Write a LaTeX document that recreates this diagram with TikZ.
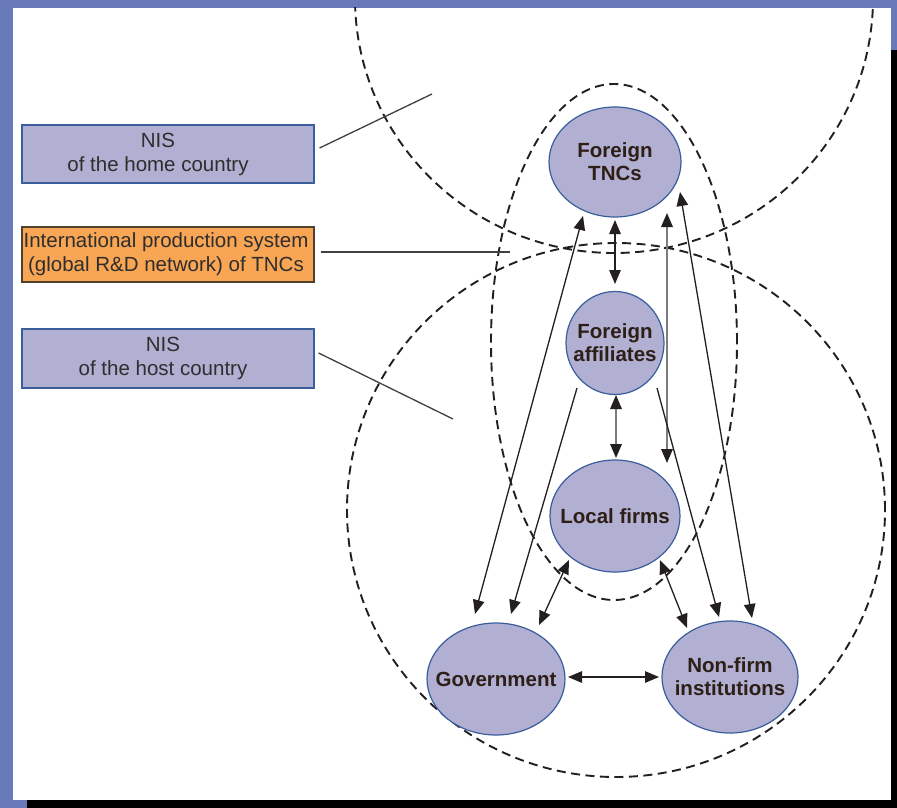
\documentclass[tikz,border=0pt]{standalone}
\usepackage{fontspec}
\setmainfont{Liberation Sans}
\usetikzlibrary{shapes.geometric,arrows.meta,calc}
\definecolor{bandblue}{RGB}{104,122,186}
\definecolor{nodefill}{RGB}{177,175,210}
\definecolor{nodeborder}{RGB}{58,94,156}
\definecolor{orangefill}{RGB}{248,165,84}
\definecolor{orangeborder}{RGB}{80,64,48}
\definecolor{inkc}{RGB}{35,31,32}
\definecolor{txtc}{RGB}{45,30,22}
\definecolor{grayline}{RGB}{125,125,125}
\begin{document}
\begin{tikzpicture}[x=1pt,y=-1pt,
  region/.style={draw=inkc, line width=1.9pt, dash pattern=on 9pt off 5.5pt},
  infobox/.style={draw=nodeborder, line width=1.2pt, fill=nodefill, minimum width=292pt,
    inner sep=0pt},
  boxtext/.style={align=center, font=\fontsize{20.5}{24}\selectfont, text=black!82},
  actor/.style={ellipse, draw=nodeborder, line width=1.2pt, fill=nodefill, inner sep=0pt},
  actortext/.style={font=\bfseries\fontsize{20.5}{23}\selectfont, text=txtc, align=center},
  tip/.tip={Triangle[length=14pt,width=11.5pt,color=inkc]},
  link/.style={draw=inkc, line width=1.3pt},
  biarrow/.style={link, tip-tip},
  uniarrow/.style={link, -tip},
  grayarrow/.style={draw=grayline, line width=1.8pt, tip-tip},
  pointer/.style={draw=black!75, line width=1.3pt}]
% background frame
\fill[bandblue] (0,0) rectangle (897,808);
\fill[white] (13,8) rectangle (891,800);
\fill[black] (891,50) rectangle (897,808);
\fill[black] (27,800) rectangle (897,808);
\useasboundingbox (0,0) rectangle (897,808);
% dashed regions
\begin{scope}
  \clip (13,8) rectangle (891,800);
  \draw[region] (614,-2) ellipse [x radius=259pt, y radius=255pt];
\end{scope}
\draw[region] (616,510) ellipse [x radius=269pt, y radius=267pt];
\draw[region] (614,342) ellipse [x radius=123pt, y radius=258pt];
% legend boxes
\node[infobox, minimum height=58pt,
  label={[boxtext, xshift=-10pt]center:NIS\\of the home country}] (home) at (168,154) {};
\node[infobox, fill=orangefill, draw=orangeborder, minimum height=55pt,
  label={[boxtext, xshift=-2pt]center:International production system\\(global R\&D network) of TNCs}]
  (intl) at (168,254.5) {};
\node[infobox, minimum height=59pt,
  label={[boxtext, xshift=-5pt]center:NIS\\of the host country}] (host) at (168,358.5) {};
\coordinate (homeend) at (432,94);
\coordinate (intlend) at (510,252);
\coordinate (hostend) at (453,419);
\draw[pointer] ([xshift=5pt,yshift=6pt]home.east) -- (homeend);
\draw[pointer] ([xshift=6pt,yshift=2.5pt]intl.east) -- (intlend);
\draw[pointer] ([xshift=4pt,yshift=5.5pt]host.east) -- (hostend);
% actors
\node[actor, minimum width=132pt, minimum height=110pt,
  label={[actortext]center:Foreign\\TNCs}] (tnc) at (615,162) {};
\node[actor, minimum width=98pt, minimum height=103pt,
  label={[actortext]center:Foreign\\affiliates}] (aff) at (615,343) {};
\node[actor, minimum width=130pt, minimum height=112pt,
  label={[actortext]center:Local firms}] (loc) at (615,516) {};
\node[actor, minimum width=138pt, minimum height=112pt,
  label={[actortext]center:Government}] (gov) at (496,679) {};
\node[actor, minimum width=136pt, minimum height=112pt,
  label={[actortext]center:Non-firm\\institutions}] (nfi) at (730,677) {};
% connectors
\draw[biarrow] ($(tnc)+(0,58)$) -- ($(aff)+(0,-59)$);
\draw[grayarrow] ($(aff)+(1,52)$) -- ($(loc)+(1,-58)$);
\draw[grayarrow] ($(tnc)+(52,51)$) -- ($(loc)+(52,-53)$);
\draw[biarrow] ($(tnc)+(65,30)$) -- ($(nfi)+(22,-59)$);
\draw[uniarrow] ($(aff)+(42,45)$) -- ($(nfi)+(-11,-60)$);
\draw[biarrow] ($(tnc)+(-32,54)$) -- ($(gov)+(-21,-65)$);
\draw[uniarrow] ($(aff)+(-38,45)$) -- ($(gov)+(15,-65)$);
\draw[biarrow] ($(loc)+(-46,44)$) -- ($(gov)+(43,-54)$);
\draw[biarrow] ($(loc)+(45,44)$) -- ($(nfi)+(-43,-49)$);
\draw[biarrow] ($(gov)+(72,-2)$) -- ($(nfi)+(-71,0)$);
\end{tikzpicture}
\end{document}
